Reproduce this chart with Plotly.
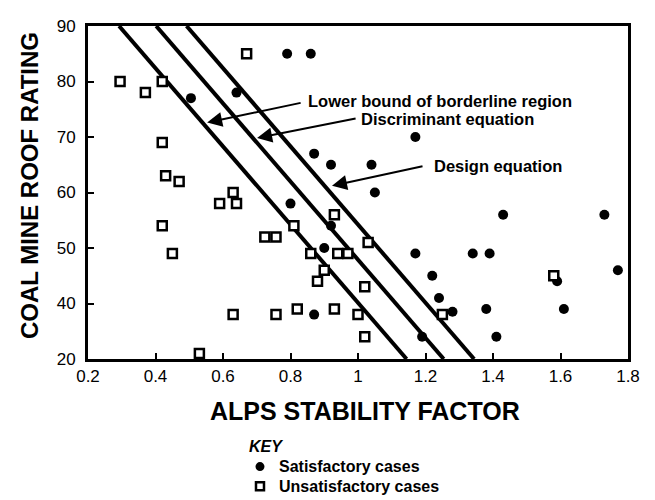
import plotly.graph_objects as go

# ---- data ----
sat_x = [0.505, 0.64, 0.79, 0.86, 1.17, 0.87, 0.92, 1.04, 1.05, 0.80, 0.92, 0.90, 0.87,
         1.17, 1.22, 1.24, 1.28, 1.19, 1.43, 1.73, 1.34, 1.39, 1.77, 1.59, 1.38, 1.61, 1.41]
sat_y = [77, 78, 85, 85, 70, 67, 65, 65, 60, 58, 54, 50, 38,
         49, 45, 41, 38.5, 34, 56, 56, 49, 49, 46, 44, 39, 39, 34]

unsat_x = [0.67, 0.295, 0.37, 0.42, 0.42, 0.43, 0.47, 0.63, 0.59, 0.64, 0.42, 0.45, 0.724,
           0.757, 0.63, 0.757, 0.53, 0.93, 0.81, 1.03, 0.86, 0.94, 0.97, 0.90, 0.88, 1.02,
           0.82, 0.93, 1.00, 1.02, 1.25, 1.58]
unsat_y = [85, 80, 78, 80, 69, 63, 62, 60, 58, 58, 54, 49, 52,
           52, 38, 38, 31, 56, 54, 51, 49, 49, 49, 46, 44, 43,
           39, 39, 38, 34, 38, 45]

# boundary lines: ALPS SF = intercept - slope * CMRR
line_names = ["Lower bound of borderline region", "Discriminant equation", "Design equation"]
line_intercepts = [1.57, 1.68, 1.77]
line_slope = 0.0142
cmrr_span = [30, 90]

x_ticks = [0.2, 0.4, 0.6, 0.8, 1.0, 1.2, 1.4, 1.6, 1.8]
x_ticktext = ["0.2", "0.4", "0.6", "0.8", "1", "1.2", "1.4", "1.6", "1.8"]
y_ticks = [30, 40, 50, 60, 70, 80, 90]
y_ticktext = ["20", "40", "50", "60", "70", "80", "90"]

key_title = "KEY"
key_labels = ["Satisfactory cases", "Unsatisfactory cases"]

FONT = "Liberation Sans, Arial, sans-serif"

fig = go.Figure()

for name, a in zip(line_names, line_intercepts):
    fig.add_trace(go.Scatter(
        x=[a - line_slope * v for v in cmrr_span], y=cmrr_span,
        mode="lines", line=dict(color="black", width=4),
        name=name, showlegend=False, hoverinfo="skip"))

fig.add_trace(go.Scatter(
    x=sat_x, y=sat_y, mode="markers", name=key_labels[0], showlegend=False,
    marker=dict(symbol="circle", size=10, color="black", line=dict(width=0))))
fig.add_trace(go.Scatter(
    x=unsat_x, y=unsat_y, mode="markers", name=key_labels[1], showlegend=False,
    marker=dict(symbol="square", size=9, color="white",
                line=dict(color="black", width=2.5))))

# arrows (head at the line, tail offset in pixels)
arrows = [
    (0.553, 72.6, 95, -20),
    (0.701, 69.8, 100, -20),
    (0.923, 61.2, 92, -20),
]
for hx, hy, ax, ay in arrows:
    fig.add_annotation(x=hx, y=hy, ax=ax, ay=ay, axref="pixel", ayref="pixel",
                       text="", showarrow=True, arrowhead=2, arrowsize=1.5,
                       arrowwidth=2, arrowcolor="black")

labels = [
    (0.846, 76.4, line_names[0]),
    (1.003, 73.3, line_names[1]),
    (1.219, 64.7, line_names[2]),
]
for tx, ty, t in labels:
    fig.add_annotation(x=tx, y=ty, text="<b>" + t + "</b>", showarrow=False,
                       xanchor="left", yanchor="middle",
                       font=dict(family=FONT, size=16.5, color="black"))

# axis titles
fig.add_annotation(xref="paper", yref="paper", x=0.513, y=-0.155,
                   text="<b>ALPS STABILITY FACTOR</b>", showarrow=False,
                   xanchor="center", yanchor="middle",
                   font=dict(family=FONT, size=25, color="black"))
fig.add_annotation(xref="paper", yref="paper", x=-0.107, y=0.52,
                   text="<b>COAL MINE ROOF RATING</b>", showarrow=False,
                   textangle=-90, xanchor="center", yanchor="middle",
                   font=dict(family=FONT, size=24, color="black"))

# key (drawn manually to match spacing)
fig.add_annotation(xref="paper", yref="paper", x=0.294, y=-0.264,
                   text="<b><i>" + key_title + "</i></b>", showarrow=False,
                   xanchor="left", yanchor="middle",
                   font=dict(family=FONT, size=16, color="black"))
key_rows_y = [-0.323, -0.382]
for lab, ky in zip(key_labels, key_rows_y):
    fig.add_annotation(xref="paper", yref="paper", x=0.35, y=ky,
                       text="<b>" + lab + "</b>", showarrow=False,
                       xanchor="left", yanchor="middle",
                       font=dict(family=FONT, size=16, color="black"))
fig.add_shape(type="circle", xref="paper", yref="paper", xsizemode="pixel", ysizemode="pixel",
              xanchor=0.3185, yanchor=key_rows_y[0], x0=-4.5, x1=4.5, y0=-4.5, y1=4.5,
              fillcolor="black", line=dict(width=0))
fig.add_shape(type="rect", xref="paper", yref="paper", xsizemode="pixel", ysizemode="pixel",
              xanchor=0.3185, yanchor=key_rows_y[1], x0=-4, x1=4, y0=-4, y1=4,
              fillcolor="white", line=dict(color="black", width=2.5))

axis_common = dict(showgrid=False, zeroline=False, showline=True, linecolor="black",
                   linewidth=3, mirror=True, ticks="inside", ticklen=6, tickwidth=1.5,
                   tickcolor="black", tickfont=dict(family=FONT, size=17, color="black"))

fig.update_xaxes(range=[0.2, 1.8], tickvals=x_ticks, ticktext=x_ticktext, **axis_common)
fig.update_yaxes(range=[30, 90], tickvals=y_ticks, ticktext=y_ticktext,
                 ticklabelstandoff=6, **axis_common)

# page body has an 8px default margin, so the figure is 8px smaller and shifted
fig.update_layout(
    width=647, height=492,
    margin=dict(l=80, r=27, t=9, b=141),
    paper_bgcolor="white", plot_bgcolor="white",
    font=dict(family=FONT, color="black"),
    showlegend=False,
)

fig.write_html("out.html")
